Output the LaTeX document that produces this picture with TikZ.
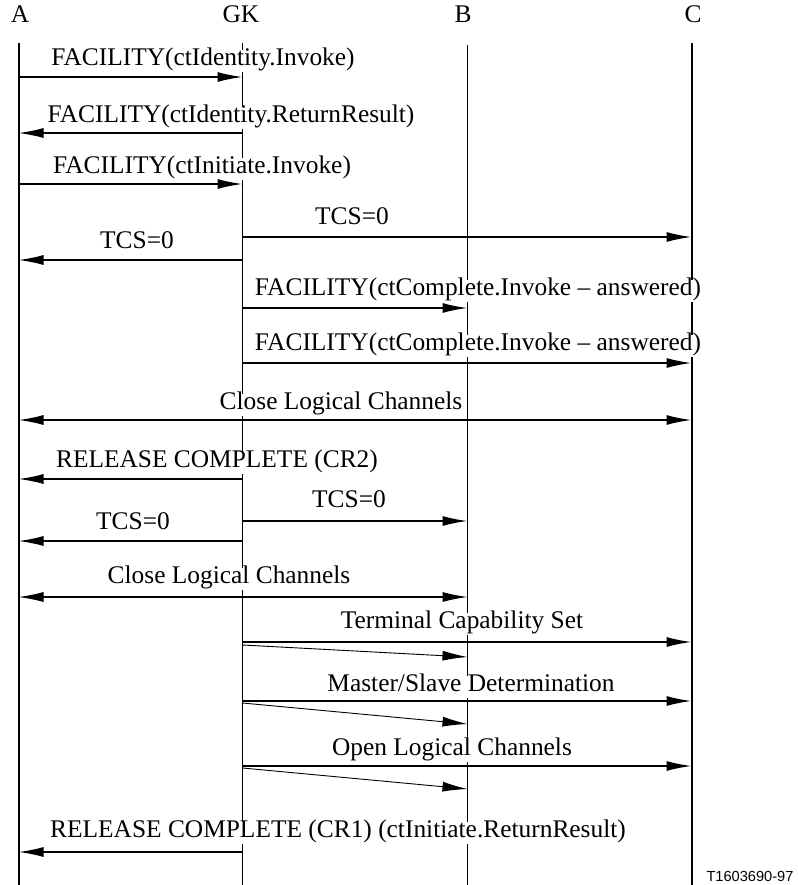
\documentclass[tikz,border=0pt]{standalone}
\usepackage{fontspec}
\setmainfont{Liberation Serif}
\newfontfamily\refsans{Liberation Sans}
\usetikzlibrary{arrows.meta}

\begin{document}
\begin{tikzpicture}[x=0.5pt,y=-0.5pt,
    life/.style={line width=1pt},
    msg/.style={line width=0.8pt,-{Latex[length=12.5pt,width=5pt]}},
    twoway/.style={line width=0.8pt,{Latex[length=12.5pt,width=5pt]}-{Latex[length=12.5pt,width=5pt]}},
    slant/.style={line width=0.45pt,-{Latex[length=12.5pt,width=5pt]}},
    lbl/.style={fill=white,draw=none,inner sep=1pt,text height=0.7em,text depth=0.22em,
        font=\fontsize{12.7}{14}\selectfont}]

    \useasboundingbox (0,0) rectangle (798,885);

    % entities
    \node[lbl] (A) at (20,18) {A};
    \node[lbl] (GK) at (241,18) {GK};
    \node[lbl] (B) at (463,18) {B};
    \node[lbl] (C) at (693,18) {C};

    \coordinate (Atop) at (18.5,43);   \coordinate (Abot) at (18.5,885);
    \coordinate (GKtop) at (242.5,43); \coordinate (GKbot) at (242.5,885);
    \coordinate (Btop) at (467.5,45);  \coordinate (Bbot) at (467.5,885);
    \coordinate (Ctop) at (691.5,43);  \coordinate (Cbot) at (691.5,885);

    \draw[life] (Atop) -- (Abot);
    \draw[life,line width=0.5pt] (GKtop) -- (GKbot);
    \draw[life,line width=0.9pt] (Btop) -- (Bbot);
    \draw[life] (Ctop) -- (Cbot);

    % message heights
    \coordinate (y1) at (0,77);
    \coordinate (y2) at (0,133);
    \coordinate (y3) at (0,184);
    \coordinate (y4) at (0,237);
    \coordinate (y5) at (0,260);
    \coordinate (y6) at (0,308);
    \coordinate (y7) at (0,363);
    \coordinate (y8) at (0,420);
    \coordinate (y9) at (0,479);
    \coordinate (y10) at (0,521);
    \coordinate (y11) at (0,541);
    \coordinate (y12) at (0,597);
    \coordinate (y13) at (0,642);
    \coordinate (y14) at (0,701);
    \coordinate (y15) at (0,766);
    \coordinate (y16) at (0,852);

    % labels
    \node[lbl] (m1) at (203,61) {FACILITY(ctIdentity.Invoke)};
    \node[lbl] (m2) at (231,118) {FACILITY(ctIdentity.ReturnResult)};
    \node[lbl] (m3) at (202,169) {FACILITY(ctInitiate.Invoke)};
    \node[lbl] (m4) at (352,220) {TCS=0};
    \node[lbl] (m5) at (137,244) {TCS=0};
    \node[lbl] (m6) at (478,291) {FACILITY(ctComplete.Invoke -- answered)};
    \node[lbl] (m7) at (478,346) {FACILITY(ctComplete.Invoke -- answered)};
    \node[lbl] (m8) at (341,405) {Close Logical Channels};
    \node[lbl] (m9) at (217,463) {RELEASE COMPLETE (CR2)};
    \node[lbl] (m10) at (349,503) {TCS=0};
    \node[lbl] (m11) at (133,525) {TCS=0};
    \node[lbl] (m12) at (229,579) {Close Logical Channels};
    \node[lbl] (m13) at (462,624) {Terminal Capability Set};
    \node[lbl] (m14) at (471,687) {Master/Slave Determination};
    \node[lbl] (m15) at (452,751) {Open Logical Channels};
    \node[lbl] (m16) at (338,833) {RELEASE COMPLETE (CR1) (ctInitiate.ReturnResult)};

    % messages
    \draw[msg] (Atop |- y1) -- (GKtop |- y1);
    \draw[msg] (GKtop |- y2) -- (Atop |- y2);
    \draw[msg] (Atop |- y3) -- (GKtop |- y3);
    \draw[msg] (GKtop |- y4) -- (Ctop |- y4);
    \draw[msg] (GKtop |- y5) -- (Atop |- y5);
    \draw[msg] (GKtop |- y6) -- (Btop |- y6);
    \draw[msg] (GKtop |- y7) -- (Ctop |- y7);
    \draw[twoway] (Atop |- y8) -- (Ctop |- y8);
    \draw[msg] (GKtop |- y9) -- (Atop |- y9);
    \draw[msg] (GKtop |- y10) -- (Btop |- y10);
    \draw[msg] (GKtop |- y11) -- (Atop |- y11);
    \draw[twoway,line width=0.6pt] (Atop |- y12) -- (Btop |- y12);
    \draw[msg] (GKtop |- y13) -- (Ctop |- y13);
    \draw[slant] ([yshift=-1.5pt]GKtop |- y13) -- ([yshift=-7.5pt]Btop |- y13);
    \draw[msg] (GKtop |- y14) -- (Ctop |- y14);
    \draw[slant] ([yshift=-1pt]GKtop |- y14) -- ([yshift=-11.5pt]Btop |- y14);
    \draw[msg] (GKtop |- y15) -- (Ctop |- y15);
    \draw[slant] ([yshift=-1pt]GKtop |- y15) -- ([yshift=-11.5pt]Btop |- y15);
    \draw[msg] (GKtop |- y16) -- (Atop |- y16);

    \node[font=\refsans\fontsize{7.3}{8}\selectfont,inner sep=0pt] (ref) at (750,876) {T1603690-97};
\end{tikzpicture}
\end{document}
